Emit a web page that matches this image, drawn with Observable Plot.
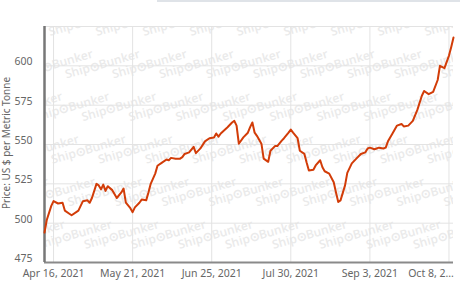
<!DOCTYPE html>
<html>
<head>
<meta charset="utf-8">
<script src="https://cdn.jsdelivr.net/npm/d3@7"></script>
<script src="https://cdn.jsdelivr.net/npm/@observablehq/plot@0.6"></script>
<style>
  body { margin: 0; background: #fff; }
  #wrap { position: relative; width: 460px; height: 291px; overflow: hidden; font-family: "Noto Sans", sans-serif; }
  #wrap > svg { position: absolute; left: 0; top: 0; }
  .ytitle { position: absolute; left: 6px; top: 143px; transform: translate(-50%, -50%) rotate(-90deg); white-space: nowrap; font-size: 10px; color: #666; }
  .topbar { position: absolute; left: 157px; top: 0; width: 303px; height: 2px; background: #dfe3e8; }
  .wm { position: absolute; left: 44px; top: 26px; width: 409px; height: 236px; overflow: hidden; }
  .wm svg { position: absolute; left: 0; top: 0; }
</style>
</head>
<body>
<div id="wrap"><div class="topbar"></div><div class="wm" id="wm"></div></div>
<script>
const dates = [
  "2021-04-12","2021-04-13","2021-04-15","2021-04-16","2021-04-18","2021-04-20","2021-04-21","2021-04-23","2021-04-24","2021-04-27",
  "2021-04-28","2021-04-29","2021-05-01","2021-05-02","2021-05-03","2021-05-05","2021-05-06","2021-05-07","2021-05-08","2021-05-09",
  "2021-05-10","2021-05-12","2021-05-14","2021-05-16","2021-05-17","2021-05-18","2021-05-20","2021-05-21","2021-05-22","2021-05-24",
  "2021-05-25","2021-05-27","2021-05-28","2021-05-29","2021-05-31","2021-06-01","2021-06-03","2021-06-05","2021-06-06","2021-06-07",
  "2021-06-09","2021-06-11","2021-06-12","2021-06-13","2021-06-15","2021-06-17","2021-06-18","2021-06-20","2021-06-22","2021-06-24",
  "2021-06-26","2021-06-27","2021-06-28","2021-06-29","2021-07-02","2021-07-04","2021-07-05","2021-07-06","2021-07-07","2021-07-09",
  "2021-07-11","2021-07-12","2021-07-13","2021-07-14","2021-07-15","2021-07-17","2021-07-18","2021-07-20","2021-07-21","2021-07-23",
  "2021-07-24","2021-07-26","2021-07-27","2021-07-29","2021-07-30","2021-07-31","2021-08-02","2021-08-03","2021-08-05","2021-08-06",
  "2021-08-07","2021-08-09","2021-08-10","2021-08-12","2021-08-13","2021-08-14","2021-08-16","2021-08-18","2021-08-19","2021-08-20",
  "2021-08-21","2021-08-23","2021-08-24","2021-08-26","2021-08-28","2021-08-30","2021-09-01","2021-09-02","2021-09-03","2021-09-05",
  "2021-09-06","2021-09-07","2021-09-09","2021-09-10","2021-09-11","2021-09-13","2021-09-15","2021-09-17","2021-09-18","2021-09-20",
  "2021-09-22","2021-09-24","2021-09-26","2021-09-27","2021-09-29","2021-10-01","2021-10-03","2021-10-04","2021-10-06","2021-10-08",
  "2021-10-09","2021-10-10"
];
const prices = [
  494, 502, 511, 514, 512.5, 513, 508, 506, 505, 508,
  511, 514, 514.5, 513, 516, 525, 524, 521.5, 524.5, 520.5,
  523.5, 521, 516, 519.5, 522, 513, 509.5, 507, 510, 513,
  515, 514.5, 519.5, 525, 531.5, 536.5, 538.5, 540.5, 540, 541.5,
  541, 541, 542, 544, 545, 548.5, 544.5, 547.5, 552, 554,
  554.5, 557, 555, 557, 561, 564, 565, 562, 550.5, 554.5,
  557.5, 561, 564, 557.5, 555.5, 550.5, 541, 539, 546, 549,
  549, 552.5, 554, 557.5, 559.5, 557.5, 554, 546, 544, 538.5,
  533.5, 534, 536.7, 540, 535.5, 533, 531.5, 526, 519.5, 513.5,
  514.5, 524, 532, 538, 541, 544, 545, 547.5, 548, 547,
  547.5, 548, 547.5, 548, 552, 557, 562, 563, 561.5, 562,
  565, 572, 581, 584, 582, 583.5, 591, 600, 598.5, 606.5,
  612, 618
];
const xTicks = ["2021-04-16","2021-05-21","2021-06-25","2021-07-30","2021-09-03","2021-10-08"];
const xTickLabels = ["Apr 16, 2021","May 21, 2021","Jun 25, 2021","Jul 30, 2021","Sep 3, 2021","Oct 8, 2\u2026"];
const xDomain = ["2021-04-12","2021-10-10"];
const yTicks = [475, 500, 525, 550, 575, 600];
const yGrid = [475, 500, 525, 550, 575, 600, 625];
const yDomain = [475, 625];
const yTitle = "Price: US $ per Metric Tonne";
const watermark = "Ship\u2299Bunker";

const data = dates.map((d, i) => ({date: new Date(d), price: prices[i]}));
const tickDates = xTicks.map(d => new Date(d));
const labelFor = d => xTickLabels[tickDates.findIndex(t => +t === +d)];

// faint decorative watermark tiled behind the chart, clipped to the plot area
const ns = "http://www.w3.org/2000/svg";
const wsvg = document.createElementNS(ns, "svg");
wsvg.setAttribute("width", 409);
wsvg.setAttribute("height", 236);
for (let r = -1; r < 7; r++) {
  const cy = 6 + r * 42.6;
  let x0 = (3 - 44 + r * 16.5) % 47;
  if (x0 > 0) x0 -= 47;
  for (let x = x0 - 47; x < 420; x += 47) {
    const tx = document.createElementNS(ns, "text");
    tx.setAttribute("transform", `translate(${x},${cy + 4}) rotate(-16)`);
    tx.setAttribute("font-family", '"Open Sans", "Noto Sans", sans-serif');
    tx.setAttribute("font-size", "12");
    tx.setAttribute("font-weight", "600");
    tx.setAttribute("fill", "#eaeaea");
    tx.textContent = watermark;
    wsvg.appendChild(tx);
  }
}
document.getElementById("wm").appendChild(wsvg);

const chart = Plot.plot({
  width: 460,
  height: 291,
  marginTop: 26,
  marginBottom: 29,
  marginLeft: 44,
  marginRight: 7,
  style: {fontFamily: '"Noto Sans", sans-serif', fontSize: "10.5px", color: "#666", background: "transparent"},
  x: {type: "utc", domain: xDomain.map(d => new Date(d))},
  y: {domain: yDomain},
  marks: [
    Plot.gridY(yGrid, {stroke: "#e3e3e3", strokeOpacity: 1}),
    Plot.gridX(tickDates, {stroke: "#e3e3e3", strokeOpacity: 1}),
    Plot.ruleY([yDomain[0]], {stroke: "#8a8a8a", strokeWidth: 2}),
    Plot.ruleX([new Date(xDomain[0])], {stroke: "#777", strokeWidth: 2.5}),
    Plot.axisY(yTicks, {tickSize: 0, tickPadding: 12, dy: -4, label: null, tickFormat: d => String(d)}),
    Plot.axisX(tickDates.slice(0, 5), {tickSize: 0, tickPadding: 7, label: null, tickFormat: labelFor}),
    Plot.axisX(tickDates.slice(5), {tickSize: 0, tickPadding: 7, dx: -18, label: null, tickFormat: labelFor}),
    Plot.line(data, {x: "date", y: "price", stroke: "#d23c08", strokeWidth: 2})
  ]
});
const wrap = document.getElementById("wrap");
wrap.appendChild(chart);
const t = document.createElement("div");
t.className = "ytitle";
t.textContent = yTitle;
wrap.appendChild(t);
</script>
</body>
</html>
